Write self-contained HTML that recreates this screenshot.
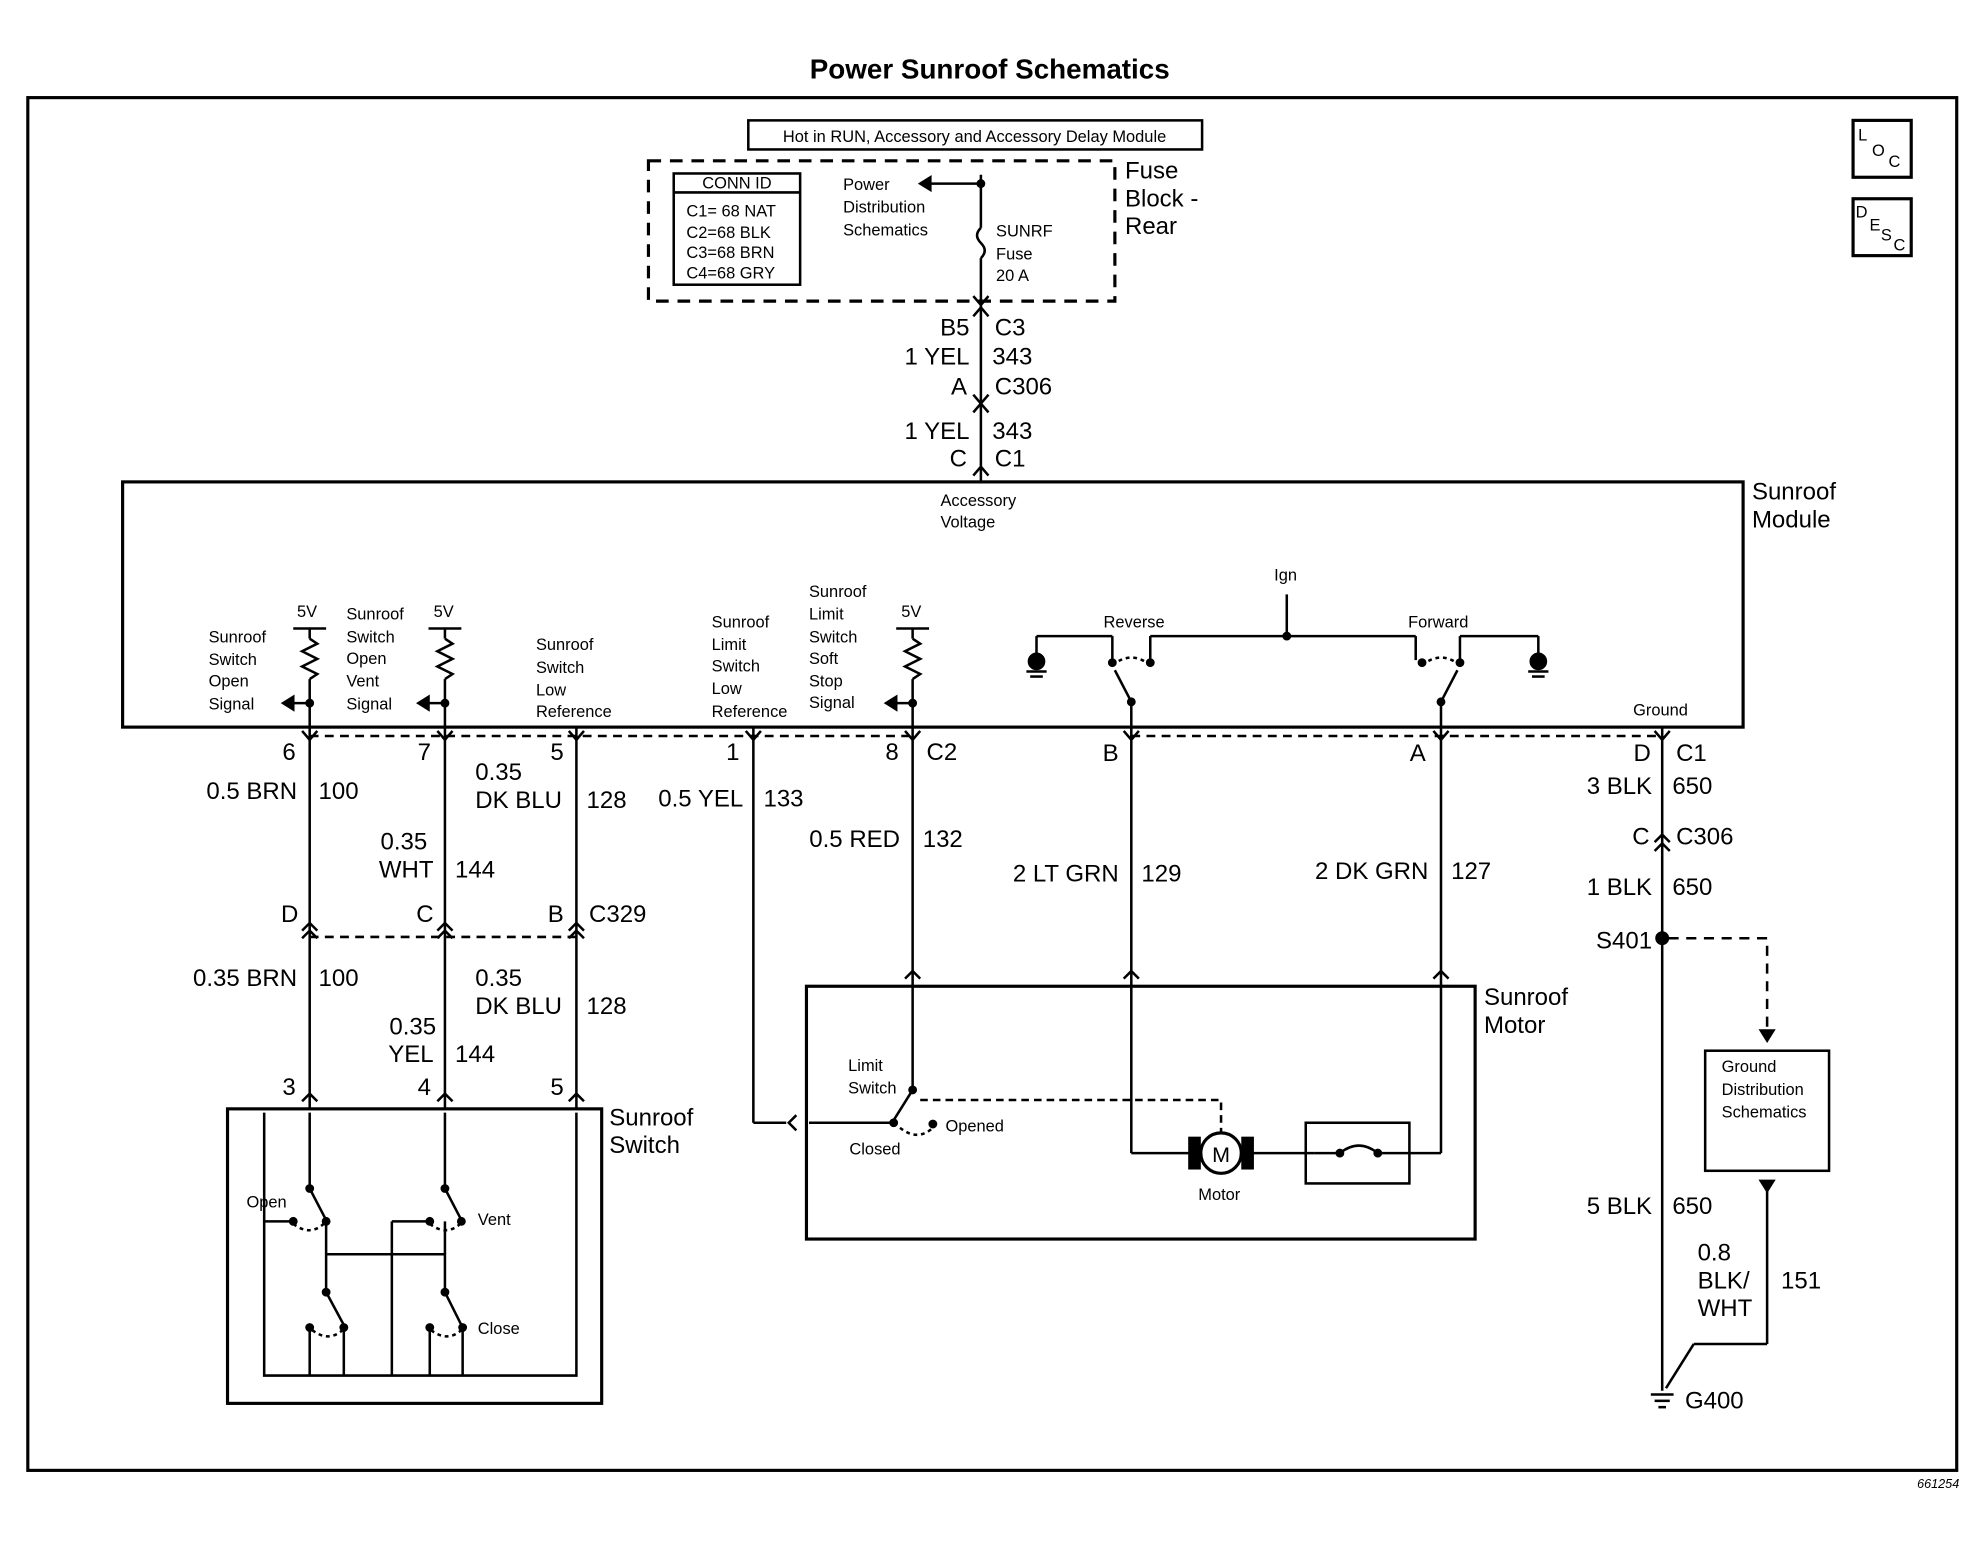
<!DOCTYPE html>
<html><head><meta charset="utf-8"><style>
html,body{margin:0;padding:0;background:#fff;}
svg{display:block;}
text{font-family:"Liberation Sans",sans-serif;fill:#000;}
.w{font-size:19px;}
.s{font-size:13px;}
.m{font-size:14px;}
</style></head><body>
<svg width="1982" height="1568" viewBox="0 0 1568 1240" xmlns="http://www.w3.org/2000/svg" stroke="#000" fill="none" stroke-width="2">
<g stroke="none">
<text x="783" y="62" text-anchor="middle" style="font-size:22px;font-weight:bold">Power Sunroof Schematics</text>
<text x="1550" y="1177" text-anchor="end" style="font-size:10px;font-style:italic">661254</text>
</g>
<rect x="22" y="77" width="1526" height="1086" stroke-width="2.5"/>
<!-- header -->
<rect x="592" y="95" width="359" height="23"/>
<text x="771" y="112" text-anchor="middle" class="s" stroke="none">Hot in RUN, Accessory and Accessory  Delay  Module</text>
<rect x="513" y="127" width="369" height="111" stroke-dasharray="10,7" stroke-width="2.5"/>
<rect x="533" y="137" width="100" height="88"/>
<line x1="533" y1="152" x2="633" y2="152"/>
<g stroke="none" class="s">
<text x="583" y="149" text-anchor="middle">CONN ID</text>
<text x="543" y="171">C1= 68 NAT</text>
<text x="543" y="188">C2=68 BLK</text>
<text x="543" y="204">C3=68 BRN</text>
<text x="543" y="220">C4=68 GRY</text>
<text x="667" y="150">Power</text>
<text x="667" y="168">Distribution</text>
<text x="667" y="186">Schematics</text>
<text x="788" y="187">SUNRF</text>
<text x="788" y="205">Fuse</text>
<text x="788" y="222">20 A</text>
<text x="890" y="141" style="font-size:19px">Fuse</text>
<text x="890" y="163" style="font-size:19px">Block -</text>
<text x="890" y="185" style="font-size:19px">Rear</text>
</g>
<line x1="776" y1="138" x2="776" y2="180"/>
<line x1="734" y1="145" x2="776" y2="145"/>
<path d="M736 140 L728 145 L736 150 Z" fill="#000"/>
<circle cx="776" cy="145" r="2.5" fill="#000"/>
<path d="M776 180 q-6 6 0 12 q6 6 0 12"/>
<line x1="776" y1="204" x2="776" y2="380"/>
<path d="M770 234 L776 241 L782 234"/>
<path d="M770 250 L776 243 L782 250"/>
<path d="M770 312 L776 319 L782 312"/>
<path d="M770 326 L776 319 L782 326"/>
<path d="M770 376 L776 369 L782 376"/>
<g stroke="none" class="w">
<text x="767" y="265" text-anchor="end">B5</text><text x="787" y="265">C3</text>
<text x="767" y="288" text-anchor="end">1 YEL</text><text x="785" y="288">343</text>
<text x="765" y="312" text-anchor="end">A</text><text x="787" y="312">C306</text>
<text x="767" y="347" text-anchor="end">1 YEL</text><text x="785" y="347">343</text>
<text x="765" y="369" text-anchor="end">C</text><text x="787" y="369">C1</text>
</g>
<!-- LOC DESC -->
<rect x="1466" y="95" width="46" height="45" stroke-width="2.5"/>
<rect x="1466" y="157" width="46" height="45" stroke-width="2.5"/>
<g stroke="none" class="s">
<text x="1470" y="111">L</text><text x="1481" y="123">O</text><text x="1494" y="132">C</text>
<text x="1468" y="172">D</text><text x="1479" y="182">E</text><text x="1488" y="190">S</text><text x="1498" y="198">C</text>
</g>
<!-- module -->
<rect x="97" y="381" width="1282" height="194" stroke-width="2.5"/>
<g stroke="none">
<text x="1386" y="395" style="font-size:19px">Sunroof</text>
<text x="1386" y="417" style="font-size:19px">Module</text>
<g class="s">
<text x="744" y="400">Accessory</text><text x="744" y="417">Voltage</text>
<text x="165" y="508">Sunroof</text><text x="165" y="526">Switch</text><text x="165" y="543">Open</text><text x="165" y="561">Signal</text>
<text x="235" y="488">5V</text>
<text x="274" y="490">Sunroof</text><text x="274" y="508">Switch</text><text x="274" y="525">Open</text><text x="274" y="543">Vent</text><text x="274" y="561">Signal</text>
<text x="343" y="488">5V</text>
<text x="424" y="514">Sunroof</text><text x="424" y="532">Switch</text><text x="424" y="550">Low</text><text x="424" y="567">Reference</text>
<text x="563" y="496">Sunroof</text><text x="563" y="514">Limit</text><text x="563" y="531">Switch</text><text x="563" y="549">Low</text><text x="563" y="567">Reference</text>
<text x="640" y="472">Sunroof</text><text x="640" y="490">Limit</text><text x="640" y="508">Switch</text><text x="640" y="525">Soft</text><text x="640" y="543">Stop</text><text x="640" y="560">Signal</text>
<text x="713" y="488">5V</text>
<text x="1008" y="459">Ign</text>
<text x="873" y="496">Reverse</text>
<text x="1114" y="496">Forward</text>
<text x="1292" y="566">Ground</text>
</g></g>
<!-- pullups -->
<g>
<line x1="232" y1="497" x2="258" y2="497"/><line x1="245" y1="497" x2="245" y2="505"/>
<path d="M245 505 l6 4 l-12 6 l12 6 l-12 6 l12 6 l-6 4"/><line x1="245" y1="537" x2="245" y2="575"/>
<line x1="232" y1="556" x2="245" y2="556"/><path d="M232 551 L224 556 L232 561 Z" fill="#000"/><circle cx="245" cy="556" r="2.5" fill="#000"/>
<line x1="339" y1="497" x2="365" y2="497"/><line x1="352" y1="497" x2="352" y2="505"/>
<path d="M352 505 l6 4 l-12 6 l12 6 l-12 6 l12 6 l-6 4"/><line x1="352" y1="537" x2="352" y2="575"/>
<line x1="339" y1="556" x2="352" y2="556"/><path d="M339 551 L331 556 L339 561 Z" fill="#000"/><circle cx="352" cy="556" r="2.5" fill="#000"/>
<line x1="709" y1="497" x2="735" y2="497"/><line x1="722" y1="497" x2="722" y2="505"/>
<path d="M722 505 l6 4 l-12 6 l12 6 l-12 6 l12 6 l-6 4"/><line x1="722" y1="537" x2="722" y2="575"/>
<line x1="709" y1="556" x2="722" y2="556"/><path d="M709 551 L701 556 L709 561 Z" fill="#000"/><circle cx="722" cy="556" r="2.5" fill="#000"/>
</g>
<!-- relays -->
<line x1="1018" y1="470" x2="1018" y2="503"/>
<line x1="910" y1="503" x2="1120" y2="503"/><circle cx="1018" cy="503" r="2.5" fill="#000"/>
<line x1="910" y1="503" x2="910" y2="522"/><line x1="1120" y1="503" x2="1120" y2="522"/>
<line x1="820" y1="503" x2="880" y2="503"/><line x1="820" y1="503" x2="820" y2="520"/><line x1="880" y1="503" x2="880" y2="522"/>
<line x1="1155" y1="503" x2="1217" y2="503"/><line x1="1217" y1="503" x2="1217" y2="520"/><line x1="1155" y1="503" x2="1155" y2="522"/>
<circle cx="820" cy="523" r="6" fill="#000"/><line x1="812" y1="531" x2="828" y2="531"/><line x1="815" y1="535" x2="825" y2="535"/>
<circle cx="1217" cy="523" r="6" fill="#000"/><line x1="1209" y1="531" x2="1225" y2="531"/><line x1="1212" y1="535" x2="1222" y2="535"/>
<circle cx="880" cy="524" r="2.5" fill="#000"/><circle cx="910" cy="524" r="2.5" fill="#000"/>
<path d="M880 526 q15 -12 30 0" stroke-dasharray="3,3"/>
<line x1="895" y1="555" x2="882" y2="530"/><line x1="895" y1="555" x2="895" y2="575"/><circle cx="895" cy="555" r="2.5" fill="#000"/>
<circle cx="1125" cy="524" r="2.5" fill="#000"/><circle cx="1155" cy="524" r="2.5" fill="#000"/>
<path d="M1125 526 q15 -12 30 0" stroke-dasharray="3,3"/>
<line x1="1140" y1="555" x2="1153" y2="530"/><line x1="1140" y1="555" x2="1140" y2="575"/><circle cx="1140" cy="555" r="2.5" fill="#000"/>
<line x1="1315" y1="575" x2="1315" y2="575"/>
<!-- bottom connector dashed -->
<line x1="245" y1="582" x2="722" y2="582" stroke-dasharray="7,5"/>
<line x1="895" y1="582" x2="1315" y2="582" stroke-dasharray="7,5"/>
<line x1="245" y1="741" x2="456" y2="741" stroke-dasharray="7,5"/>
<!-- wires -->
<g>
<line x1="245" y1="575" x2="245" y2="877"/>
<line x1="352" y1="575" x2="352" y2="877"/>
<line x1="456" y1="575" x2="456" y2="877"/>
<line x1="596" y1="575" x2="596" y2="888"/>
<line x1="596" y1="888" x2="622" y2="888"/>
<line x1="722" y1="575" x2="722" y2="780"/>
<line x1="895" y1="575" x2="895" y2="780"/>
<line x1="1140" y1="575" x2="1140" y2="780"/>
<line x1="1315" y1="575" x2="1315" y2="1100"/>
</g>
<!-- connector arrows -->
<g>
<path d="M239 578 L245 585 L251 578"/><path d="M346 578 L352 585 L358 578"/><path d="M450 578 L456 585 L462 578"/>
<path d="M590 578 L596 585 L602 578"/><path d="M716 578 L722 585 L728 578"/><path d="M889 578 L895 585 L901 578"/>
<path d="M1134 578 L1140 585 L1146 578"/><path d="M1309 578 L1315 585 L1321 578"/>
<path d="M239 736 L245 730 L251 736"/><path d="M239 742 L245 736 L251 742"/>
<path d="M346 736 L352 730 L358 736"/><path d="M346 742 L352 736 L358 742"/>
<path d="M450 736 L456 730 L462 736"/><path d="M450 742 L456 736 L462 742"/>
<path d="M1309 666 L1315 660 L1321 666"/><path d="M1309 673 L1315 667 L1321 673"/>
<path d="M716 774 L722 768 L728 774"/><path d="M889 774 L895 768 L901 774"/><path d="M1134 774 L1140 768 L1146 774"/>
<path d="M239 871 L245 865 L251 871"/><path d="M346 871 L352 865 L358 871"/><path d="M450 871 L456 865 L462 871"/>
<path d="M630 882 L624 888 L630 894"/>
</g>
<g stroke="none" class="w">
<text x="234" y="601" text-anchor="end">6</text><text x="341" y="601" text-anchor="end">7</text><text x="446" y="601" text-anchor="end">5</text>
<text x="585" y="601" text-anchor="end">1</text><text x="711" y="601" text-anchor="end">8</text><text x="733" y="601">C2</text>
<text x="885" y="602" text-anchor="end">B</text><text x="1128" y="602" text-anchor="end">A</text>
<text x="1306" y="602" text-anchor="end">D</text><text x="1326" y="602">C1</text>
<text x="235" y="632" text-anchor="end">0.5 BRN</text><text x="252" y="632">100</text>
<text x="376" y="617">0.35</text><text x="376" y="639">DK BLU</text><text x="464" y="639">128</text>
<text x="588" y="638" text-anchor="end">0.5 YEL</text><text x="604" y="638">133</text>
<text x="338" y="672" text-anchor="end">0.35</text><text x="343" y="694" text-anchor="end">WHT</text><text x="360" y="694">144</text>
<text x="712" y="670" text-anchor="end">0.5 RED</text><text x="730" y="670">132</text>
<text x="885" y="697" text-anchor="end">2 LT GRN</text><text x="903" y="697">129</text>
<text x="1130" y="695" text-anchor="end">2 DK GRN</text><text x="1148" y="695">127</text>
<text x="1307" y="628" text-anchor="end">3 BLK</text><text x="1323" y="628">650</text>
<text x="1305" y="668" text-anchor="end">C</text><text x="1326" y="668">C306</text>
<text x="1307" y="708" text-anchor="end">1 BLK</text><text x="1323" y="708">650</text>
<text x="1307" y="750" text-anchor="end">S401</text>
<text x="236" y="729" text-anchor="end">D</text><text x="343" y="729" text-anchor="end">C</text><text x="446" y="729" text-anchor="end">B</text><text x="466" y="729">C329</text>
<text x="235" y="780" text-anchor="end">0.35 BRN</text><text x="252" y="780">100</text>
<text x="376" y="780">0.35</text><text x="376" y="802">DK BLU</text><text x="464" y="802">128</text>
<text x="345" y="818" text-anchor="end">0.35</text><text x="343" y="840" text-anchor="end">YEL</text><text x="360" y="840">144</text>
<text x="234" y="866" text-anchor="end">3</text><text x="341" y="866" text-anchor="end">4</text><text x="446" y="866" text-anchor="end">5</text>
<text x="482" y="890">Sunroof</text><text x="482" y="912">Switch</text>
<text x="1174" y="795">Sunroof</text><text x="1174" y="817">Motor</text>
<text x="1307" y="960" text-anchor="end">5 BLK</text><text x="1323" y="960">650</text>
<text x="1343" y="997">0.8</text><text x="1343" y="1019">BLK/</text><text x="1343" y="1041">WHT</text><text x="1409" y="1019">151</text>
<text x="1333" y="1114">G400</text>
</g>
<!-- S401 / ground dist -->
<circle cx="1315" cy="742" r="4.5" fill="#000"/>
<path d="M1320 742 L1398 742 L1398 815" stroke-dasharray="8,6"/>
<path d="M1393 815 L1398 823 L1403 815 Z" fill="#000"/>
<rect x="1349" y="831" width="98" height="95"/>
<g stroke="none" class="s"><text x="1362" y="848">Ground</text><text x="1362" y="866">Distribution</text><text x="1362" y="884">Schematics</text></g>
<path d="M1393 934 L1398 942 L1403 934 Z" fill="#000"/>
<line x1="1398" y1="942" x2="1398" y2="1063"/><line x1="1398" y1="1063" x2="1340" y2="1063"/><line x1="1340" y1="1063" x2="1318" y2="1098"/>
<line x1="1306" y1="1103" x2="1324" y2="1103"/><line x1="1309" y1="1108" x2="1321" y2="1108"/><line x1="1312" y1="1113" x2="1318" y2="1113"/>
<!-- motor box -->
<rect x="638" y="780" width="529" height="200" stroke-width="2.5"/>
<g stroke="none" class="s">
<text x="671" y="847">Limit</text><text x="671" y="865">Switch</text>
<text x="748" y="895">Opened</text><text x="672" y="913">Closed</text><text x="948" y="949">Motor</text>
</g>
<line x1="640" y1="888" x2="705" y2="888"/>
<line x1="722" y1="780" x2="722" y2="862"/><circle cx="722" cy="862" r="2.5" fill="#000"/>
<line x1="722" y1="862" x2="707" y2="886"/><circle cx="707" cy="888" r="2.5" fill="#000"/>
<circle cx="738" cy="889" r="2.5" fill="#000"/>
<path d="M712 892 q15 12 28 -2" stroke-dasharray="3,3"/>
<path d="M728 870 L966 870 L966 895" stroke-dasharray="6,4"/>
<line x1="895" y1="780" x2="895" y2="912"/><line x1="895" y1="912" x2="945" y2="912"/>
<rect x="941" y="900" width="8" height="24" fill="#000"/><rect x="983" y="900" width="8" height="24" fill="#000"/>
<circle cx="966" cy="912" r="16" fill="#fff" stroke-width="2.5"/>
<text x="966" y="919" text-anchor="middle" stroke="none" style="font-size:17px">M</text>
<line x1="991" y1="912" x2="1040" y2="912"/>
<rect x="1033" y="888" width="82" height="48"/>
<circle cx="1060" cy="912" r="2.5" fill="#000"/><circle cx="1090" cy="912" r="2.5" fill="#000"/>
<path d="M1060 912 q15 -12 30 0"/>
<line x1="1040" y1="912" x2="1060" y2="912"/><line x1="1090" y1="912" x2="1140" y2="912"/>
<line x1="1140" y1="780" x2="1140" y2="912"/>
<!-- switch box -->
<rect x="180" y="877" width="296" height="233" stroke-width="2.5"/>
<path d="M209 880 L209 1088 L456 1088 L456 880"/>
<g stroke="none" class="s"><text x="195" y="955">Open</text><text x="378" y="969">Vent</text><text x="378" y="1055">Close</text></g>
<line x1="245" y1="880" x2="245" y2="940"/><line x1="245" y1="940" x2="258" y2="965"/><circle cx="245" cy="940" r="2.5" fill="#000"/>
<circle cx="232" cy="966" r="2.5" fill="#000"/><circle cx="258" cy="966" r="2.5" fill="#000"/>
<path d="M232 968 q13 10 24 0" stroke-dasharray="3,3"/>
<line x1="209" y1="966" x2="232" y2="966"/>
<line x1="258" y1="966" x2="258" y2="1020"/>
<line x1="258" y1="992" x2="352" y2="992"/>
<line x1="352" y1="880" x2="352" y2="940"/><line x1="352" y1="940" x2="365" y2="965"/><circle cx="352" cy="940" r="2.5" fill="#000"/>
<circle cx="340" cy="966" r="2.5" fill="#000"/><circle cx="365" cy="966" r="2.5" fill="#000"/>
<path d="M340 968 q13 10 24 0" stroke-dasharray="3,3"/>
<line x1="310" y1="966" x2="340" y2="966"/><line x1="310" y1="966" x2="310" y2="1088"/>
<line x1="352" y1="966" x2="352" y2="1020"/>
<line x1="258" y1="1022" x2="272" y2="1048"/><circle cx="258" cy="1022" r="2.5" fill="#000"/>
<circle cx="245" cy="1050" r="2.5" fill="#000"/><circle cx="272" cy="1050" r="2.5" fill="#000"/>
<path d="M247 1052 q13 10 24 0" stroke-dasharray="3,3"/>
<line x1="245" y1="1050" x2="245" y2="1088"/><line x1="272" y1="1050" x2="272" y2="1088"/>
<line x1="352" y1="1022" x2="365" y2="1048"/><circle cx="352" cy="1022" r="2.5" fill="#000"/>
<circle cx="340" cy="1050" r="2.5" fill="#000"/><circle cx="366" cy="1050" r="2.5" fill="#000"/>
<path d="M341 1052 q13 10 24 0" stroke-dasharray="3,3"/>
<line x1="340" y1="1050" x2="340" y2="1088"/><line x1="366" y1="1050" x2="366" y2="1088"/>
</svg>
</body></html>
